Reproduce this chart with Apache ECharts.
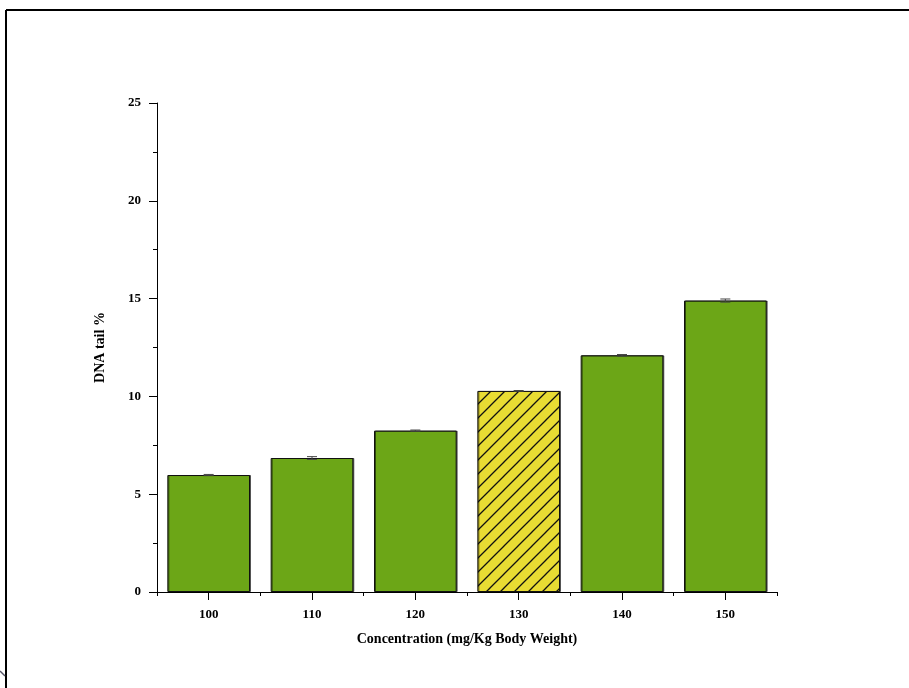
<!DOCTYPE html>
<html>
<head>
<meta charset="utf-8">
<script src="https://cdn.jsdelivr.net/npm/echarts@6/dist/echarts.min.js"></script>
<style>
  html, body { margin: 0; padding: 0; background: #fff; }
  #chart { width: 909px; height: 688px; }
</style>
</head>
<body>
<div id="chart"></div>
<script>
// Dose groups and measured DNA tail percentages
const categories = ['100', '110', '120', '130', '140', '150'];
const tailValues = [5.98, 6.85, 8.25, 10.28, 12.1, 14.9];
const tailErrors = [0.03, 0.07, 0.03, 0.02, 0.04, 0.08];
const highlightIndex = 3;

const font = '"Liberation Serif", "Times New Roman", serif';
const green = '#6ca617';
const yellow = '#e8dc33';

// Diagonal hatch tile (yellow with thin black "/" strokes)
function hatchTile() {
  const s = 14;
  const c = document.createElement('canvas');
  c.width = s; c.height = s;
  const g = c.getContext('2d');
  g.fillStyle = yellow;
  g.fillRect(0, 0, s, s);
  g.strokeStyle = '#111';
  g.lineWidth = 1.3;
  g.beginPath();
  g.moveTo(-1, s + 1); g.lineTo(s + 1, -1);
  g.moveTo(-1, 1); g.lineTo(1, -1);
  g.moveTo(s - 1, s + 1); g.lineTo(s + 1, s - 1);
  g.stroke();
  return c;
}

const chart = echarts.init(document.getElementById('chart'), null, { renderer: 'canvas' });

const barData = tailValues.map((v, i) => {
  if (i !== highlightIndex) return v;
  return {
    value: v,
    itemStyle: { color: { image: hatchTile(), repeat: 'repeat' } }
  };
});

const errorData = tailValues.map((v, i) => [i, v - tailErrors[i], v + tailErrors[i]]);

chart.setOption({
  backgroundColor: '#fff',
  animation: false,
  grid: { left: 157, right: 132, top: 103, bottom: 96 },
  xAxis: [
    {
      type: 'category',
      data: categories,
      name: 'Concentration (mg/Kg Body Weight)',
      nameLocation: 'middle',
      nameGap: 40,
      nameTextStyle: { fontFamily: font, fontWeight: 'bold', fontSize: 14, color: '#000' },
      axisLine: { lineStyle: { color: '#000', width: 1 } },
      axisTick: { show: true, alignWithLabel: false, length: 4, inside: false, lineStyle: { color: '#000' } },
      axisLabel: { fontFamily: font, fontWeight: 'bold', fontSize: 13, color: '#000', margin: 16 },
      splitLine: { show: false }
    },
    {
      type: 'category',
      data: categories,
      position: 'bottom',
      axisLine: { show: false },
      axisTick: { show: true, alignWithLabel: true, length: 8, lineStyle: { color: '#000' } },
      axisLabel: { show: false },
      splitLine: { show: false }
    }
  ],
  yAxis: {
    type: 'value',
    min: 0,
    max: 25,
    interval: 5,
    name: 'DNA tail %',
    nameLocation: 'middle',
    nameGap: 50,
    nameTextStyle: { fontFamily: font, fontWeight: 'bold', fontSize: 14, color: '#000' },
    axisLine: { show: true, lineStyle: { color: '#000', width: 1 } },
    axisTick: { show: true, length: 8, lineStyle: { color: '#000' } },
    minorTick: { show: true, splitNumber: 2, length: 4, lineStyle: { color: '#000' } },
    axisLabel: { fontFamily: font, fontWeight: 'bold', fontSize: 13, color: '#000', margin: 16 },
    splitLine: { show: false }
  },
  series: [
    {
      type: 'bar',
      data: barData,
      barCategoryGap: '20%',
      itemStyle: {
        color: green,
        borderColor: '#111',
        borderWidth: 1,
        shadowColor: 'rgba(0,0,0,0.55)',
        shadowOffsetX: 1,
        shadowOffsetY: 0,
        shadowBlur: 0
      }
    },
    {
      type: 'custom',
      data: errorData,
      z: 5,
      renderItem: function (params, api) {
        const x = api.value(0);
        const lo = api.coord([x, api.value(1)]);
        const hi = api.coord([x, api.value(2)]);
        const half = 5;
        const style = { stroke: '#444', lineWidth: 1 };
        return {
          type: 'group',
          children: [
            { type: 'line', shape: { x1: hi[0], y1: hi[1], x2: lo[0], y2: lo[1] }, style },
            { type: 'line', shape: { x1: hi[0] - half, y1: hi[1], x2: hi[0] + half, y2: hi[1] }, style },
            { type: 'line', shape: { x1: lo[0] - half, y1: lo[1], x2: lo[0] + half, y2: lo[1] }, style }
          ]
        };
      }
    }
  ],
  graphic: [
    { type: 'line', shape: { x1: 6, y1: 10, x2: 909, y2: 10 }, style: { stroke: '#000', lineWidth: 2 } },
    { type: 'line', shape: { x1: 6, y1: 10, x2: 6, y2: 688 }, style: { stroke: '#000', lineWidth: 2 } },
    { type: 'line', shape: { x1: 0, y1: 671, x2: 5, y2: 676 }, style: { stroke: '#556', lineWidth: 1.5 } }
  ]
});
</script>
</body>
</html>
